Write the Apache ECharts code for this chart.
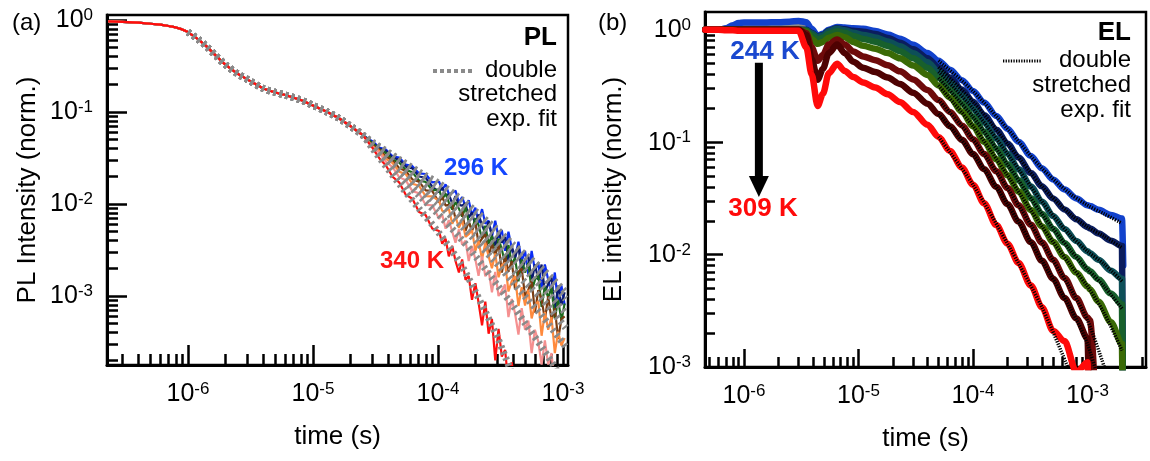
<!DOCTYPE html>
<html><head><meta charset="utf-8">
<script src="https://cdn.jsdelivr.net/npm/echarts@6/dist/echarts.min.js"></script>
<style>html,body{margin:0;padding:0;background:#fff}#c{width:1150px;height:461px}</style>
</head><body><div id="c"></div><script>
// ---------------- Panel (a): PL ----------------
const PL_T_HEAD = [2.3e-7,3e-7,4e-7,5e-7,6e-7,7e-7,8e-7,9e-7,1e-6,1.2e-6,1.4e-6,1.7e-6,2e-6,2.5e-6,3e-6,4e-6,5e-6,6e-6,8e-6,1e-5,1.3e-5,1.6e-5,2e-5,2.5e-5];
const PL_HEAD = [0.965,0.955,0.935,0.91,0.89,0.86,0.83,0.79,0.74,0.62,0.52,0.40,0.325,0.26,0.225,0.18,0.163,0.153,0.135,0.118,0.100,0.086,0.070,0.056];
const PL_T_TAIL = [3.0e-5,3.39e-5,3.83e-5,4.33e-5,4.89e-5,5.52e-5,6.24e-5,7.05e-5,7.96e-5,9.0e-5,
  1.02e-4,1.08e-4,1.15e-4,1.22e-4,1.30e-4,1.38e-4,1.47e-4,1.56e-4,1.66e-4,1.76e-4,1.87e-4,1.99e-4,2.11e-4,2.25e-4,2.39e-4,2.54e-4,2.70e-4,2.87e-4,3.05e-4,3.24e-4,
  3.44e-4,3.66e-4,3.89e-4,4.13e-4,4.40e-4,4.67e-4,4.97e-4,5.28e-4,5.61e-4,5.96e-4,6.34e-4,6.74e-4,7.16e-4,7.61e-4,8.09e-4,8.60e-4,9.14e-4,9.71e-4,1.03e-3];
const PL_296 = [0.048,0.041,0.039,0.033,0.032,0.0268,0.0258,0.0215,0.0212,0.0172,
  0.0175,0.0142,0.0164,0.0129,0.0132,0.0140,0.0104,0.0119,0.0093,0.0110,0.0076,0.0091,0.0062,0.0088,0.0061,0.0066,0.0044,0.0066,0.0043,0.0052,
  0.0031,0.0050,0.0033,0.0026,0.0039,0.0024,0.0031,0.0017,0.0031,0.0019,0.0023,0.0012,0.0022,0.0015,0.0011,0.0018,0.0008,0.0013,0.0008];
const PL_300 = [0.0465,0.0400,0.0378,0.0318,0.0304,0.0255,0.0244,0.0199,0.0193,0.0155,
  0.0135,0.0152,0.0124,0.0128,0.0101,0.0122,0.0098,0.0096,0.0102,0.0071,0.0081,0.0058,0.0077,0.0059,0.0048,0.0065,0.0045,0.0035,0.0051,0.0038,
  0.0044,0.0024,0.0035,0.0026,0.0035,0.0018,0.0025,0.0027,0.0014,0.0022,0.0015,0.0022,0.0011,0.00135,0.0016,0.0007,0.0013,0.0008,0.0011];
const PL_310 = [0.0455,0.0392,0.0358,0.0303,0.0282,0.0235,0.0221,0.0180,0.0174,0.0141,
  0.0144,0.0112,0.0130,0.0104,0.0087,0.0105,0.0089,0.0073,0.0092,0.0064,0.0053,0.0070,0.0059,0.0042,0.0058,0.0037,0.0045,0.0027,0.0042,0.0032,
  0.00225,0.0036,0.0022,0.0026,0.00144,0.0025,0.0018,0.0023,0.00113,0.0015,0.0017,0.00076,0.00128,0.00095,0.00125,0.00057,0.00091,0.00054,0.00083];
const PL_320 = [0.0432,0.0392,0.0328,0.0298,0.0246,0.0229,0.0185,0.0175,0.0141,0.0138,
  0.0104,0.0121,0.0096,0.0098,0.0099,0.0069,0.0075,0.0083,0.0051,0.0064,0.0051,0.0063,0.0037,0.0042,0.0047,0.0027,0.0037,0.0028,0.0037,0.0018,
  0.0027,0.00184,0.0024,0.00118,0.00184,0.002,0.00099,0.00117,0.00149,0.00066,0.00116,0.00093,0.00055,0.001,0.00055,0.00074,0.00034,0.00056,0.0006];
const PL_325 = [0.0422,0.0378,0.0309,0.0279,0.0225,0.0211,0.0166,0.0158,0.0122,0.0121,
  0.0108,0.0084,0.0084,0.0089,0.0061,0.0073,0.0055,0.0067,0.0044,0.0047,0.0052,0.0031,0.0040,0.0025,0.0038,0.0027,0.0020,0.0029,0.0016,0.00215,
  0.0023,0.00112,0.00145,0.00165,0.00078,0.00125,0.00079,0.00117,0.00057,0.00079,0.00088,0.00037,0.00067,0.00043,0.00059,0.00024,0.00041,0.00029,0.00035];
const PL_333 = [0.0412,0.0362,0.0288,0.0252,0.0196,0.0181,0.0138,0.0131,0.0098,0.0097,
  0.0069,0.0077,0.0054,0.0067,0.0050,0.0038,0.0053,0.0036,0.0040,0.0024,0.0035,0.0025,0.00166,0.0027,0.00164,0.00191,0.0011,0.00183,0.001,0.00114,
  0.00133,0.00059,0.00093,0.00065,0.00038,0.00074,0.00043,0.00054,0.00024,0.00043,0.00032,0.00018,0.00033,0.00018,0.00024,0.0001,0.00017,0.00012,0.00013];
const PL_340 = [0.0405,0.0315,0.0262,0.0198,0.0172,0.0126,0.0114,0.0082,0.0076,0.0054,
  0.0051,0.0037,0.0042,0.0027,0.0035,0.0024,0.0018,0.0025,0.0015,0.00165,0.00091,0.00138,0.00085,0.00048,0.00087,0.00039,0.00056,0.0002,0.00044,0.00022,
  0.00026,0.00011,0.00019,0.0001,0.00009];
// double stretched exponential fits (tails)
const PLF_T = [3e-5,5e-5,7e-5,1e-4,1.5e-4,2e-4,3e-4,4e-4,5e-4,7e-4,1.05e-3];
const PLF_296 = [0.047,0.030,0.0225,0.017,0.0115,0.0083,0.0052,0.0036,0.0028,0.0019,0.0011];
const PLF_300 = [0.046,0.029,0.021,0.0155,0.0102,0.0073,0.0045,0.0031,0.0024,0.0016,0.00093];
const PLF_310 = [0.045,0.027,0.019,0.0135,0.0087,0.0061,0.0036,0.0025,0.0019,0.0012,0.00065];
const PLF_320 = [0.044,0.025,0.017,0.0118,0.0073,0.0050,0.0029,0.0019,0.0014,0.00088,0.00045];
const PLF_325 = [0.043,0.023,0.0152,0.010,0.0060,0.0040,0.0022,0.0014,0.00098,0.00058,0.00028];
const PLF_333 = [0.042,0.020,0.0125,0.0078,0.0043,0.0027,0.0013,0.00078,0.0005,0.00026,0.00011];
const PLF_340 = [0.040,0.016,0.009,0.005,0.0023,0.0011,0.00035,0.00013];
const PL_COLORS = ['#0a2cf5','#0b1a70','#1c6a1c','#7a3c12','#ff8a3d','#f59090','#ff0d0d'];

// ---------------- Panel (b): EL ----------------
const EL_T = [4.6e-7,6e-7,7e-7,8e-7,9e-7,1e-6,1.5e-6,2e-6,2.5e-6,3e-6,3.5e-6,3.9e-6,4.4e-6,4.9e-6,5.5e-6,6.5e-6,7.6e-6,9e-6,
  1.1e-5,1.4e-5,1.8e-5,2.3e-5,3e-5,4e-5,5e-5,6.3e-5,8e-5,1e-4,1.25e-4,1.6e-4,2e-4,2.5e-4,3.2e-4,4e-4,5e-4,6.3e-4,8e-4,1e-3,1.05e-3,1.25e-3,1.6e-3,2e-3,2.05e-3];
const EL_GRAY = [1.0,1.0,1.02,1.05,1.07,1.07,1.07,1.07,1.08,1.08,1.06,0.97,0.87,0.9,0.98,1.03,1.01,0.98,0.96];
const EL_244 = [1.0,1.0,1.03,1.1,1.15,1.16,1.16,1.17,1.18,1.2,1.17,1.02,0.89,0.92,1.0,1.06,1.05,1.03,
  1.02,0.974,0.909,0.833,0.735,0.621,0.531,0.441,0.356,0.285,0.225,0.171,0.1315,0.101,0.0753,0.0585,0.0466,0.0379,0.0316,0.0275,0.0270,0.025,0.0225,0.0209,0.008];
const EL_NAVY = [1.0,1.0,1.0,1.0,1.0,1.0,1.0,1.0,1.0,1.0,1.0,0.94,0.87,0.9,0.98,1.03,1.01,0.98,
  0.96,0.917,0.846,0.767,0.670,0.559,0.465,0.376,0.294,0.229,0.175,0.129,0.0973,0.0732,0.0533,0.0405,0.0316,0.0252,0.0206,0.0176,0.0171,0.0154,0.0133,0.0119,0.0001];
const EL_TEAL = [1.0,1.0,1.0,1.0,1.0,1.0,1.0,1.0,1.0,1.0,0.99,0.93,0.86,0.89,0.97,1.02,0.99,0.94,
  0.90,0.856,0.788,0.713,0.620,0.515,0.424,0.337,0.260,0.199,0.150,0.108,0.079,0.0576,0.0404,0.0296,0.0221,0.0169,0.0132,0.0107,0.0103,0.0090,0.0072,0.0061,0.0001];
const EL_DKGREEN = [1.0,1.0,1.0,1.0,1.0,1.0,1.0,1.0,1.0,1.0,0.98,0.90,0.82,0.85,0.92,0.97,0.94,0.88,
  0.83,0.784,0.718,0.645,0.557,0.460,0.373,0.293,0.2225,0.1676,0.1238,0.0876,0.0635,0.0459,0.0318,0.0230,0.0170,0.0127,0.0095,0.0074,0.0071,0.0060,0.0045,0.0036,0.0001];
const EL_OLIVE = [1.0,1.0,1.0,1.0,1.0,1.0,1.0,1.0,1.0,1.0,0.96,0.83,0.75,0.78,0.85,0.90,0.86,0.78,
  0.72,0.679,0.621,0.558,0.482,0.397,0.320,0.249,0.187,0.139,0.101,0.0705,0.0508,0.0364,0.0249,0.0178,0.0130,0.0095,0.0069,0.0052,0.0049,0.0038,0.0025,0.0016,0.0001];
const EL_MAROONB = [1.0,1.0,1.0,1.0,1.0,1.0,1.0,1.0,1.0,1.0,0.93,0.70,0.53,0.60,0.74,0.82,0.74,0.64,
  0.58,0.537,0.484,0.427,0.362,0.292,0.237,0.186,0.141,0.106,0.0785,0.0552,0.0391,0.0275,0.0184,0.0128,0.0090,0.0062,0.0041,0.00275,0.0026,0.0001];
const EL_MAROONA = [1.0,1.0,1.0,1.0,1.0,1.0,1.0,1.0,1.0,1.0,0.9,0.55,0.36,0.45,0.62,0.74,0.62,0.52,
  0.46,0.421,0.376,0.330,0.276,0.220,0.178,0.139,0.105,0.0784,0.0576,0.040,0.0281,0.0196,0.0129,0.0088,0.0061,0.0041,0.0027,0.0018,0.0001];
const EL_309 = [1.0,1.0,0.99,0.99,0.98,0.98,0.98,0.98,0.98,0.98,0.70,0.40,0.21,0.27,0.41,0.50,0.43,0.38,
  0.34,0.306,0.267,0.228,0.186,0.143,0.1115,0.0833,0.0595,0.0419,0.0286,0.0183,0.0125,0.0084,0.0053,0.0034,0.0021,0.0017,0.0009,0.0011,0.0001];
const ELF_T = [5e-5,1e-4,2e-4,4e-4,7e-4,1e-3,1.4e-3,2e-3];
const ELF_244 = [0.531,0.285,0.1315,0.0585,0.035,0.0275,0.023,0.019];
const ELF_NAVY = [0.465,0.229,0.0973,0.0405,0.023,0.0176,0.0145,0.0115];
const ELF_TEAL = [0.424,0.199,0.079,0.0296,0.015,0.0107,0.0082,0.0058];
const ELF_DKGREEN = [0.373,0.1676,0.0635,0.023,0.0111,0.0074,0.0052,0.0033];
const ELF_OLIVE = [0.320,0.139,0.0508,0.0178,0.0082,0.0052,0.0030,0.0014];
const ELF_MAROONB = [0.237,0.106,0.0391,0.0128,0.0051,0.0026,0.001];
const ELF_MAROONA = [0.178,0.0784,0.0281,0.0088,0.0034,0.0016,0.0005];
const ELF_309 = [0.1115,0.0419,0.0125,0.0034,0.0009];
const EL_COLORS = {gray:'#8a8a8a', b244:'#1242cc', navy:'#0b1d5e', teal:'#0d4f58', dkgreen:'#18602c', olive:'#3a6a06', maroonB:'#6e0a0a', maroonA:'#4e0202', r309:'#ff0a0a'};

// ---------------- Axis ticks ----------------
const PL_X_MAJOR = [1e-6,1e-5,1e-4,1e-3];
const PL_X_MINOR = [3e-7,4e-7,5e-7,6e-7,7e-7,8e-7,9e-7,2e-6,3e-6,4e-6,5e-6,6e-6,7e-6,8e-6,9e-6,2e-5,3e-5,4e-5,5e-5,6e-5,7e-5,8e-5,9e-5,2e-4,3e-4,4e-4,5e-4,6e-4,7e-4,8e-4,9e-4];
const PL_Y_MAJOR = [1e-3,1e-2,1e-1,1];
const PL_Y_MINOR = [2e-4,3e-4,4e-4,5e-4,6e-4,7e-4,8e-4,9e-4,2e-3,3e-3,4e-3,5e-3,6e-3,7e-3,8e-3,9e-3,0.02,0.03,0.04,0.05,0.06,0.07,0.08,0.09,0.2,0.3,0.4,0.5,0.6,0.7,0.8,0.9];
const EL_X_MAJOR = [1e-6,1e-5,1e-4,1e-3];
const EL_X_MINOR = [5e-7,6e-7,7e-7,8e-7,9e-7,2e-6,3e-6,4e-6,5e-6,6e-6,7e-6,8e-6,9e-6,2e-5,3e-5,4e-5,5e-5,6e-5,7e-5,8e-5,9e-5,2e-4,3e-4,4e-4,5e-4,6e-4,7e-4,8e-4,9e-4,2e-3,3e-3];
const EL_Y_MAJOR = [1e-3,1e-2,1e-1,1];
const EL_Y_MINOR = [2e-3,3e-3,4e-3,5e-3,6e-3,7e-3,8e-3,9e-3,0.02,0.03,0.04,0.05,0.06,0.07,0.08,0.09,0.2,0.3,0.4,0.5,0.6,0.7,0.8,0.9];

const FONT = '"Liberation Sans", Arial, Helvetica, sans-serif';
const RICH = {
  b:{fontSize:25, fontFamily:FONT, color:'#000', lineHeight:26, padding:[7,0,0,0], verticalAlign:'bottom'},
  s:{fontSize:17, fontFamily:FONT, color:'#000', lineHeight:17, verticalAlign:'top'}
};
function expLabel(v){ const e = Math.round(Math.log10(v)); return '{b|10}{s|' + e + '}'; }

function pairs(ts, vs){ const out=[]; for(let i=0;i<vs.length;i++){ if(vs[i]!=null) out.push([ts[i], vs[i]]); } return out; }

function axisPair(dim, grid, min, max, majors, minors, majLen, minLen, name, nameGap){
  const isX = dim==='x';
  const major = {
    type:'log', logBase:10, gridIndex:grid, min:min, max:max, position: isX?'bottom':'left',
    axisLine:{show:true, onZero:false, lineStyle:{color:'#000', width:3}},
    axisTick:{show:true, inside:true, length:majLen, customValues:majors, lineStyle:{color:'#000', width:2.5}},
    axisLabel:{show:true, customValues:majors, formatter:expLabel, rich:RICH, margin:isX?16:14, color:'#000', fontSize:25, fontFamily:FONT},
    splitLine:{show:false}, minorTick:{show:false}, minorSplitLine:{show:false},
    name:name, nameLocation:'middle', nameGap:nameGap, nameMoveOverlap:false,
    nameTextStyle:{fontSize:26, fontFamily:FONT, color:'#000'}
  };
  const minor = {
    type:'log', logBase:10, gridIndex:grid, min:min, max:max, position: isX?'bottom':'left',
    axisLine:{show:false},
    axisTick:{show:true, inside:true, length:minLen, customValues:minors, lineStyle:{color:'#000', width:2.5}},
    axisLabel:{show:false}, splitLine:{show:false}, minorTick:{show:false}
  };
  return [major, minor];
}

const xAxes = [].concat(
  axisPair('x', 0, 2.25e-7, 1.096e-3, PL_X_MAJOR, PL_X_MINOR, 20, 11, 'time (s)', 59),
  axisPair('x', 1, 4.57e-7, 3.24e-3, EL_X_MAJOR, EL_X_MINOR, 18, 10, 'time (s)', 59)
);
const yAxes = [].concat(
  axisPair('y', 0, 1.78e-4, 1.133, PL_Y_MAJOR, PL_Y_MINOR, 20, 11, 'PL Intensity (norm.)', 66),
  axisPair('y', 1, 1e-3, 1.44, EL_Y_MAJOR, EL_Y_MINOR, 18, 10, 'EL intensity (norm.)', 78)
);

const series = [];
const plData = [PL_296, PL_300, PL_310, PL_320, PL_325, PL_333, PL_340];
const plFits = [PLF_296, PLF_300, PLF_310, PLF_320, PLF_325, PLF_333, PLF_340];
plData.forEach((tail, i) => {
  series.push({type:'line', xAxisIndex:0, yAxisIndex:0, showSymbol:false, symbol:'none', silent:true, z:2+i*0.01,
    lineStyle:{color:PL_COLORS[i], width:2.2}, data: pairs(PL_T_HEAD, PL_HEAD).concat(pairs(PL_T_TAIL, tail))});
});
plFits.forEach((tail, i) => {
  series.push({type:'line', xAxisIndex:0, yAxisIndex:0, showSymbol:false, symbol:'none', silent:true, z:3, smooth:0.3,
    lineStyle:{color:'#8a8a8a', width:7, type:[2.6,3.6]},
    data: pairs(PL_T_HEAD.slice(8), PL_HEAD.slice(8)).concat(pairs(PLF_T, tail))});
});
const elCurves = [
  [EL_GRAY, EL_COLORS.gray], [EL_244, EL_COLORS.b244], [EL_NAVY, EL_COLORS.navy], [EL_TEAL, EL_COLORS.teal],
  [EL_DKGREEN, EL_COLORS.dkgreen], [EL_OLIVE, EL_COLORS.olive], [EL_MAROONB, EL_COLORS.maroonB],
  [EL_MAROONA, EL_COLORS.maroonA], [EL_309, EL_COLORS.r309]
];
elCurves.forEach(([vals, col], i) => {
  series.push({type:'line', xAxisIndex:2, yAxisIndex:2, showSymbol:false, symbol:'none', silent:true, z:2+i*0.01,
    smooth:0.3, smoothMonotone:'x',
    lineStyle:{color:col, width:6.5, join:'round', cap:'round'}, data: pairs(EL_T, vals)});
});
[ELF_244, ELF_NAVY, ELF_TEAL, ELF_DKGREEN, ELF_OLIVE, ELF_MAROONB, ELF_MAROONA, ELF_309].forEach(f => {
  series.push({type:'line', xAxisIndex:2, yAxisIndex:2, showSymbol:false, symbol:'none', silent:true, z:4, smooth:0.3,
    lineStyle:{color:'#000', width:3.5, type:[1.3,1.3]}, data: pairs(ELF_T, f)});
});

function txt(id, x, y, text, size, opts){
  return {type:'text', id:id, z:10, style:Object.assign({x:x, y:y, text:text, fontSize:size, fontFamily:FONT, fill:'#000', align:'left', verticalAlign:'middle'}, opts||{})};
}
const graphics = [
  txt('pa', 12, 23, '(a)', 24),
  txt('pb', 598, 23, '(b)', 24),
  txt('pl', 557, 38, 'PL', 26, {align:'right', fontWeight:'bold'}),
  txt('pl1', 557, 70, 'double', 24, {align:'right'}),
  txt('pl2', 557, 94, 'stretched', 24, {align:'right'}),
  txt('pl3', 557, 119, 'exp. fit', 24, {align:'right'}),
  {type:'line', id:'plleg', z:10, shape:{x1:433, y1:71, x2:472, y2:71}, style:{stroke:'#8a8a8a', lineWidth:4, lineDash:[4,3]}},
  txt('t296', 476, 168, '296 K', 24, {align:'center', fontWeight:'bold', fill:'#1346ff'}),
  txt('t340', 412, 261, '340 K', 24, {align:'center', fontWeight:'bold', fill:'#ff1414'}),
  txt('el', 1131, 33, 'EL', 26, {align:'right', fontWeight:'bold'}),
  txt('el1', 1131, 60, 'double', 24, {align:'right'}),
  txt('el2', 1131, 85, 'stretched', 24, {align:'right'}),
  txt('el3', 1131, 110, 'exp. fit', 24, {align:'right'}),
  {type:'line', id:'elleg', z:10, shape:{x1:1003, y1:61, x2:1042, y2:61}, style:{stroke:'#000', lineWidth:3, lineDash:[1.3,1.3]}},
  txt('t244', 765, 52, '244 K', 26, {align:'center', fontWeight:'bold', fill:'#1a48cf'}),
  txt('t309', 763, 209, '309 K', 26, {align:'center', fontWeight:'bold', fill:'#ff0a0a'})
];

const chart = echarts.init(document.getElementById('c'), null, {renderer:'canvas'});
chart.setOption({
  animation:false, backgroundColor:'#fff',
  grid:[
    {left:107, top:15, width:461, height:350, show:true, borderColor:'#000', borderWidth:2.5, backgroundColor:'transparent', containLabel:false, outerBoundsMode:'none'},
    {left:705, top:12, width:441, height:355, show:true, borderColor:'#000', borderWidth:2.5, backgroundColor:'transparent', containLabel:false, outerBoundsMode:'none'}
  ],
  xAxis:xAxes, yAxis:yAxes, series:series, graphic:graphics
});

// arrow from 244 K to 309 K, placed in data coordinates of panel (b)
const ARROW_T = 1.35e-6, ARROW_FROM = 0.51, ARROW_TO = 0.0325;
const a0 = chart.convertToPixel({xAxisIndex:2, yAxisIndex:2}, [ARROW_T, ARROW_FROM]);
const a1 = chart.convertToPixel({xAxisIndex:2, yAxisIndex:2}, [ARROW_T, ARROW_TO]);
if (a0 && a1) {
  chart.setOption({graphic: graphics.concat([
    {type:'rect', id:'ashaft', z:10, shape:{x:a0[0]-4, y:a0[1], width:8, height:(a1[1]-20)-a0[1]}, style:{fill:'#000'}},
    {type:'polygon', id:'ahead', z:10, shape:{points:[[a1[0]-10, a1[1]-21],[a1[0]+10, a1[1]-21],[a1[0], a1[1]]]}, style:{fill:'#000'}}
  ])});
}
</script></body></html>
